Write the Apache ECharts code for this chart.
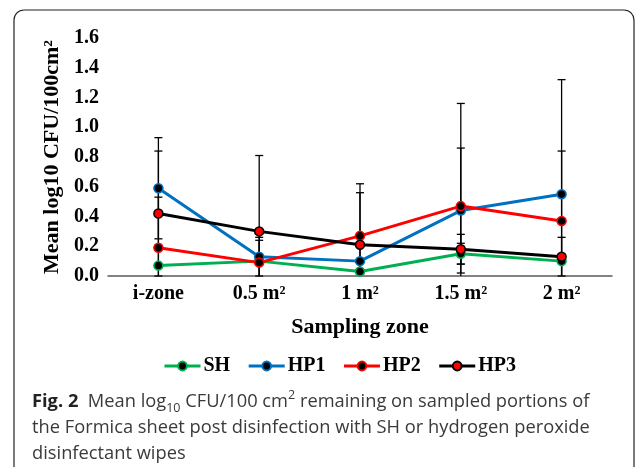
<!DOCTYPE html>
<html>
<head>
<meta charset="utf-8">
<script src="https://cdn.jsdelivr.net/npm/echarts@6/dist/echarts.min.js"></script>
<style>
html,body{margin:0;padding:0;background:#fff;}
#c{width:636px;height:467px;}
</style>
</head>
<body>
<div id="c"></div>
<script>
const categories = ['i-zone', '0.5 m²', '1 m²', '1.5 m²', '2 m²'];
const seriesNames = ['SH', 'HP1', 'HP2', 'HP3'];
const SH = [0.07, 0.10, 0.03, 0.15, 0.10];
const HP1 = [0.59, 0.13, 0.10, 0.44, 0.55];
const HP2 = [0.19, 0.09, 0.27, 0.47, 0.37];
const HP3 = [0.42, 0.30, 0.21, 0.18, 0.13];
const SH_err = [0, 0, 0, 0.07, 0];
const HP1_err = [0.34, 0.13, 0, 0.42, 0.77];
const HP2_err = [0.34, 0.15, 0.35, 0.69, 0.47];
const HP3_err = [0.42, 0.51, 0.35, 0.10, 0.13];
const yTicks = { min: 0, max: 1.6, interval: 0.2 };

const values = [SH, HP1, HP2, HP3];
const errors = [SH_err, HP1_err, HP2_err, HP3_err];
const lineColors = ['#00B050', '#0070C0', '#FF0000', '#000000'];
const markerFill = ['#000000', '#000000', '#000000', '#FF0000'];

const serif = '"Liberation Serif", "Times New Roman", serif';
const sans = '"Open Sans", "Noto Sans", sans-serif';
const chart = echarts.init(document.getElementById('c'));

function errRender(params, api) {
  const x = api.value(0), v = api.value(1), e = api.value(2);
  if (!(e > 0)) return;
  const hi = v + e, lo = Math.max(0, v - e);
  const pHi = api.coord([x, hi]);
  const pLo = api.coord([x, lo]);
  const cw = 4;
  const st = { stroke: '#000', lineWidth: 1.3 };
  const children = [
    { type: 'line', shape: { x1: pHi[0], y1: pHi[1], x2: pLo[0], y2: pLo[1] }, style: st },
    { type: 'line', shape: { x1: pHi[0] - cw, y1: pHi[1], x2: pHi[0] + cw, y2: pHi[1] }, style: st }
  ];
  if (v - e >= 0) {
    children.push({ type: 'line', shape: { x1: pLo[0] - cw, y1: pLo[1], x2: pLo[0] + cw, y2: pLo[1] }, style: st });
  }
  return { type: 'group', children: children };
}

const series = [];
values.forEach((vals, s) => {
  series.push({
    type: 'custom',
    name: seriesNames[s] + ' error',
    renderItem: errRender,
    data: vals.map((v, i) => [i, v, errors[s][i]]),
    z: 1,
    silent: true
  });
});
values.forEach((vals, s) => {
  series.push({
    type: 'line',
    name: seriesNames[s],
    data: vals,
    symbol: 'circle',
    symbolSize: 9,
    z: 2 + s,
    lineStyle: { color: lineColors[s], width: 3 },
    itemStyle: { color: markerFill[s], borderColor: lineColors[s], borderWidth: 1.5 },
    emphasis: { disabled: true },
    animation: false
  });
});

chart.setOption({
  animation: false,
  grid: { left: 108, right: 24, top: 38, bottom: 191 },
  xAxis: {
    type: 'category',
    data: categories,
    boundaryGap: true,
    name: 'Sampling zone',
    nameLocation: 'middle',
    nameGap: 40,
    nameTextStyle: { fontFamily: serif, fontWeight: 'bold', fontSize: 22, color: '#000' },
    axisLine: { lineStyle: { color: '#595959', width: 1.5 } },
    axisTick: { show: false },
    axisLabel: { fontFamily: serif, fontWeight: 'bold', fontSize: 20, color: '#000', margin: 8 }
  },
  yAxis: {
    type: 'value',
    min: yTicks.min, max: yTicks.max, interval: yTicks.interval,
    name: 'Mean log10 CFU/100cm²',
    nameLocation: 'middle',
    nameRotate: 90,
    nameGap: 41,
    nameTextStyle: { fontFamily: serif, fontWeight: 'bold', fontSize: 22, color: '#000' },
    axisLine: { show: false },
    axisTick: { show: false },
    splitLine: { show: false },
    axisLabel: { fontFamily: serif, fontWeight: 'bold', fontSize: 20, color: '#000', margin: 9,
      formatter: v => v.toFixed(1) }
  },
  legend: {
    data: seriesNames,
    left: 158,
    top: 351,
    itemWidth: 36,
    itemHeight: 11,
    itemGap: 17,
    lineStyle: { width: 3 },
    textStyle: { fontFamily: serif, fontWeight: 'bold', fontSize: 20, color: '#000', padding: [0, 0, 0, -2] }
  },
  graphic: [
    {
      type: 'rect',
      shape: { x: 14, y: 10, width: 620, height: 520, r: 10 },
      style: { fill: 'none', stroke: '#222', lineWidth: 1.2 },
      z: 0
    },
    {
      type: 'text',
      left: 32,
      top: 389,
      style: {
        text: '{b|Fig. 2}  Mean log{sub|10} CFU/100 cm{sup|2} remaining on sampled portions of\nthe Formica sheet post disinfection with SH or hydrogen peroxide\ndisinfectant wipes',
        fontFamily: sans,
        fontSize: 18.3,
        lineHeight: 26,
        fill: '#3a3a3a',
        rich: {
          b: { fontFamily: sans, fontWeight: 'bold', fontSize: 18.3, lineHeight: 26, fill: '#222' },
          sub: { fontFamily: sans, fontSize: 12.5, lineHeight: 12, verticalAlign: 'bottom', fill: '#3a3a3a' },
          sup: { fontFamily: sans, fontSize: 12.5, lineHeight: 12, verticalAlign: 'top', fill: '#3a3a3a' }
        }
      }
    }
  ],
  series: series
});
</script>
</body>
</html>
